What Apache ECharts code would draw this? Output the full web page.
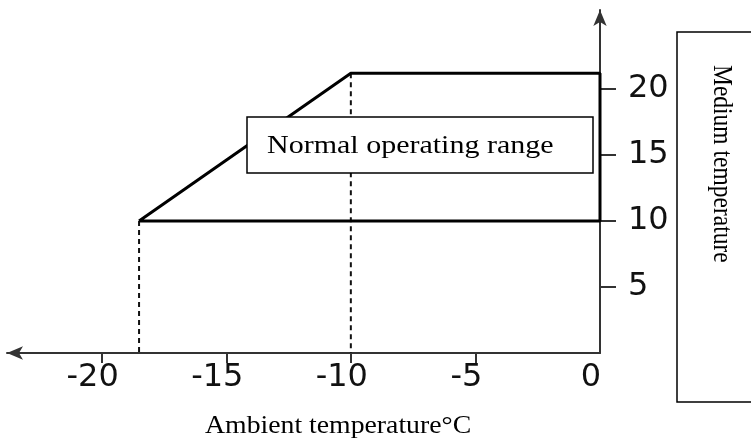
<!DOCTYPE html>
<html>
<head>
<meta charset="utf-8">
<script src="https://cdn.jsdelivr.net/npm/echarts@6/dist/echarts.min.js"></script>
<style>
  html, body { margin: 0; padding: 0; background: #fff; }
  #main { width: 751px; height: 441px; }
</style>
</head>
<body>
<div id="main"></div>
<script>
// tick labels
var xLabels = [-20, -15, -10, -5, 0];
var xTickMarks = [-20, -15, -10, -5];
var yLabels = [5, 10, 15, 20];

// operating range outline (ambient, medium)
var rangeX = [-18.5, -10, 0, 0, -18.5];
var rangeY = [10, 21.2, 21.2, 10, 10];

// dashed guides from the corners down to the axis
var guideX = [-18.5, -10];
var guideTop = [10, 21.2];

var outline = [];
for (var i = 0; i < rangeX.length; i++) {
    outline.push([rangeX[i], rangeY[i]]);
}

var series = [{
    name: 'range',
    type: 'line',
    data: outline,
    showSymbol: false,
    symbol: 'none',
    z: 3,
    lineStyle: { color: '#000', width: 3 }
}];

for (var j = 0; j < guideX.length; j++) {
    series.push({
        name: 'guide' + j,
        type: 'line',
        data: [[guideX[j], guideTop[j]], [guideX[j], 0]],
        symbol: 'none',
        z: 2,
        lineStyle: { color: '#111', width: 2, type: [5, 4] }
    });
}

var axisColor = '#333';
var labelFont = 'DejaVu Sans';

var myChart = echarts.init(document.getElementById('main'));

var option = {
    animation: false,
    backgroundColor: '#fff',
    grid: { left: 7, right: 151, top: 10, bottom: 88 },
    xAxis: {
        type: 'value',
        min: -23.8,
        max: 0,
        axisLine: {
            show: true,
            onZero: false,
            symbol: ['arrow', 'none'],
            symbolSize: [10, 16],
            lineStyle: { color: axisColor, width: 2 }
        },
        axisTick: {
            show: true,
            length: 10,
            customValues: xTickMarks,
            lineStyle: { color: axisColor, width: 2 }
        },
        axisLabel: {
            customValues: xLabels,
            fontFamily: labelFont,
            fontSize: 32,
            color: '#111',
            margin: 9,
            padding: [0, 18, 0, 0]
        },
        splitLine: { show: false }
    },
    yAxis: {
        type: 'value',
        position: 'right',
        min: 0,
        max: 26,
        axisLine: {
            show: true,
            onZero: false,
            symbol: ['none', 'arrow'],
            symbolSize: [10, 16],
            lineStyle: { color: axisColor, width: 2 }
        },
        axisTick: {
            show: true,
            length: 16,
            customValues: yLabels,
            lineStyle: { color: axisColor, width: 2 }
        },
        axisLabel: {
            customValues: yLabels,
            fontFamily: labelFont,
            fontSize: 32,
            color: '#111',
            margin: 28
        },
        splitLine: { show: false }
    },
    series: series,
    graphic: [
        {
            type: 'rect',
            z: 100,
            shape: { x: 247, y: 117, width: 346, height: 56 },
            style: { fill: '#fff', stroke: '#000', lineWidth: 1.5 }
        },
        {
            type: 'text',
            z: 101,
            x: 267,
            y: 146,
            scaleX: 1.2,
            style: {
                text: 'Normal operating range',
                font: '25px "Liberation Serif"',
                fill: '#000',
                textVerticalAlign: 'middle'
            }
        },
        {
            type: 'text',
            z: 101,
            x: 205,
            y: 426,
            scaleX: 1.11,
            style: {
                text: 'Ambient temperature°C',
                font: '25px "Liberation Serif"',
                fill: '#000',
                textVerticalAlign: 'middle'
            }
        },
        {
            type: 'rect',
            z: 100,
            shape: { x: 677, y: 32, width: 100, height: 370 },
            style: { fill: '#fff', stroke: '#000', lineWidth: 1.5 }
        },
        {
            type: 'text',
            z: 101,
            x: 721,
            y: 65,
            rotation: -Math.PI / 2,
            scaleY: 1.2,
            style: {
                text: 'Medium temperature',
                font: '23.5px "Liberation Serif"',
                fill: '#000',
                textVerticalAlign: 'middle'
            }
        }
    ]
};

myChart.setOption(option);
</script>
</body>
</html>
